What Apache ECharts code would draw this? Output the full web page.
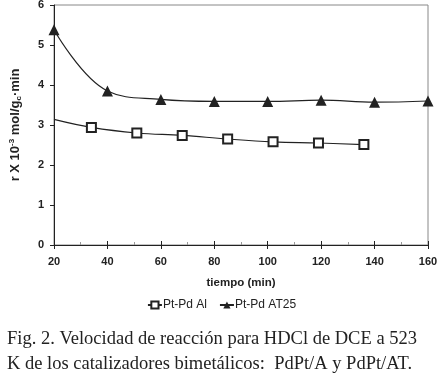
<!DOCTYPE html>
<html>
<head>
<meta charset="utf-8">
<script src="https://cdn.jsdelivr.net/npm/echarts@6/dist/echarts.min.js"></script>
<style>
  html, body { margin: 0; padding: 0; background: #fff; }
  #chart { width: 443px; height: 377px; }
</style>
</head>
<body>
<div id="chart"></div>
<script>
// datos
var timeAl = [20, 34, 51, 68, 85, 102, 119, 136];
var rateAl = [3.14, 2.94, 2.8, 2.74, 2.65, 2.58, 2.55, 2.51];
var timeAT = [20, 40, 60, 80, 100, 120, 140, 160];
var rateAT = [5.38, 3.85, 3.64, 3.59, 3.59, 3.62, 3.57, 3.6];
var xTicks = [20, 40, 60, 80, 100, 120, 140, 160];
var yTicks = [0, 1, 2, 3, 4, 5, 6];

var myChart = echarts.init(document.getElementById("chart"));

var dataAl = [];
for (var i = 0; i < timeAl.length; i++) {
  var p = { value: [timeAl[i], rateAl[i]] };
  // el primer punto no tiene marcador
  if (i === 0) p.symbol = "none";
  dataAl.push(p);
}
var dataAT = [];
for (var j = 0; j < timeAT.length; j++) {
  dataAT.push([timeAT[j], rateAT[j]]);
}

var axisFont = { fontFamily: "Liberation Sans", fontWeight: "bold", fontSize: 11, color: "#222" };

var option = {
  animation: false,
  grid: {
    show: true,
    borderColor: "#888",
    borderWidth: 1,
    left: 54,
    right: 15,
    top: 5,
    bottom: 132,
    outerBoundsMode: "none",
    containLabel: false,
  },
  legend: {
    top: 294,
    left: "center",
    itemWidth: 14,
    itemHeight: 9,
    itemGap: 12,
    textStyle: { fontFamily: "Liberation Sans", fontSize: 12, color: "#222", padding: [0, 0, 0, -4] },
    data: ["Pt-Pd Al", "Pt-Pd AT25"],
  },
  xAxis: [
    {
      type: "value",
      min: xTicks[0],
      max: xTicks[xTicks.length - 1],
      interval: 20,
      name: "tiempo (min)",
      nameLocation: "middle",
      nameGap: 32,
      nameTextStyle: Object.assign({}, axisFont, { fontSize: 11.5 }),
      axisLine: { lineStyle: { color: "#222", width: 1 } },
      axisTick: { length: 4, lineStyle: { color: "#222" } },
      axisLabel: Object.assign({ margin: 11 }, axisFont),
      splitLine: { show: false },
    },
    {
      // marcas hacia dentro, superpuestas
      type: "value",
      position: "bottom",
      min: xTicks[0],
      max: xTicks[xTicks.length - 1],
      interval: 20,
      axisLine: { show: false },
      axisTick: { inside: true, length: 4, lineStyle: { color: "#222" } },
      minorTick: { show: true, splitNumber: 2, length: 3, lineStyle: { color: "#999" } },
      axisLabel: { show: false },
      splitLine: { show: false },
    },
  ],
  yAxis: {
    type: "value",
    min: yTicks[0],
    max: yTicks[yTicks.length - 1],
    interval: 1,
    name: "r X 10{sup|-3} mol/g{sub|c}·min",
    nameLocation: "middle",
    nameGap: 31,
    nameTextStyle: Object.assign({}, axisFont, {
      fontSize: 13,
      rich: {
        sup: { fontFamily: "Liberation Sans", fontWeight: "bold", fontSize: 8, color: "#222", verticalAlign: "top", padding: [0, 0, 7, 0] },
        sub: { fontFamily: "Liberation Sans", fontWeight: "bold", fontSize: 8, color: "#222", verticalAlign: "bottom", padding: [6, 0, 0, 0] },
      },
    }),
    axisLine: { show: true, lineStyle: { color: "#222", width: 1 } },
    axisTick: { show: true, length: 4, lineStyle: { color: "#222" } },
    axisLabel: Object.assign({ margin: 10 }, axisFont),
    splitLine: { show: false },
  },
  series: [
    {
      name: "Pt-Pd Al",
      type: "line",
      smooth: 0.4,
      data: dataAl,
      symbol: "rect",
      symbolSize: 9,
      lineStyle: { color: "#222", width: 1.2 },
      itemStyle: { color: "#fff", borderColor: "#222", borderWidth: 2 },
    },
    {
      name: "Pt-Pd AT25",
      type: "line",
      smooth: 0.4,
      data: dataAT,
      symbol: "triangle",
      symbolSize: 11,
      lineStyle: { color: "#222", width: 1.2 },
      itemStyle: { color: "#222" },
    },
  ],
  graphic: [
    {
      type: "text",
      left: 7,
      top: 330,
      style: {
        text: "Fig. 2. Velocidad de reacción para HDCl de DCE a 523",
        fontFamily: "Liberation Serif",
        fontSize: 18.5,
        fill: "#222",
      },
    },
    {
      type: "text",
      left: 7,
      top: 355,
      style: {
        text: "K de los catalizadores bimetálicos:  PdPt/A y PdPt/AT.",
        fontFamily: "Liberation Serif",
        fontSize: 18.5,
        fill: "#222",
      },
    },
  ],
};
myChart.setOption(option);
</script>
</body>
</html>
